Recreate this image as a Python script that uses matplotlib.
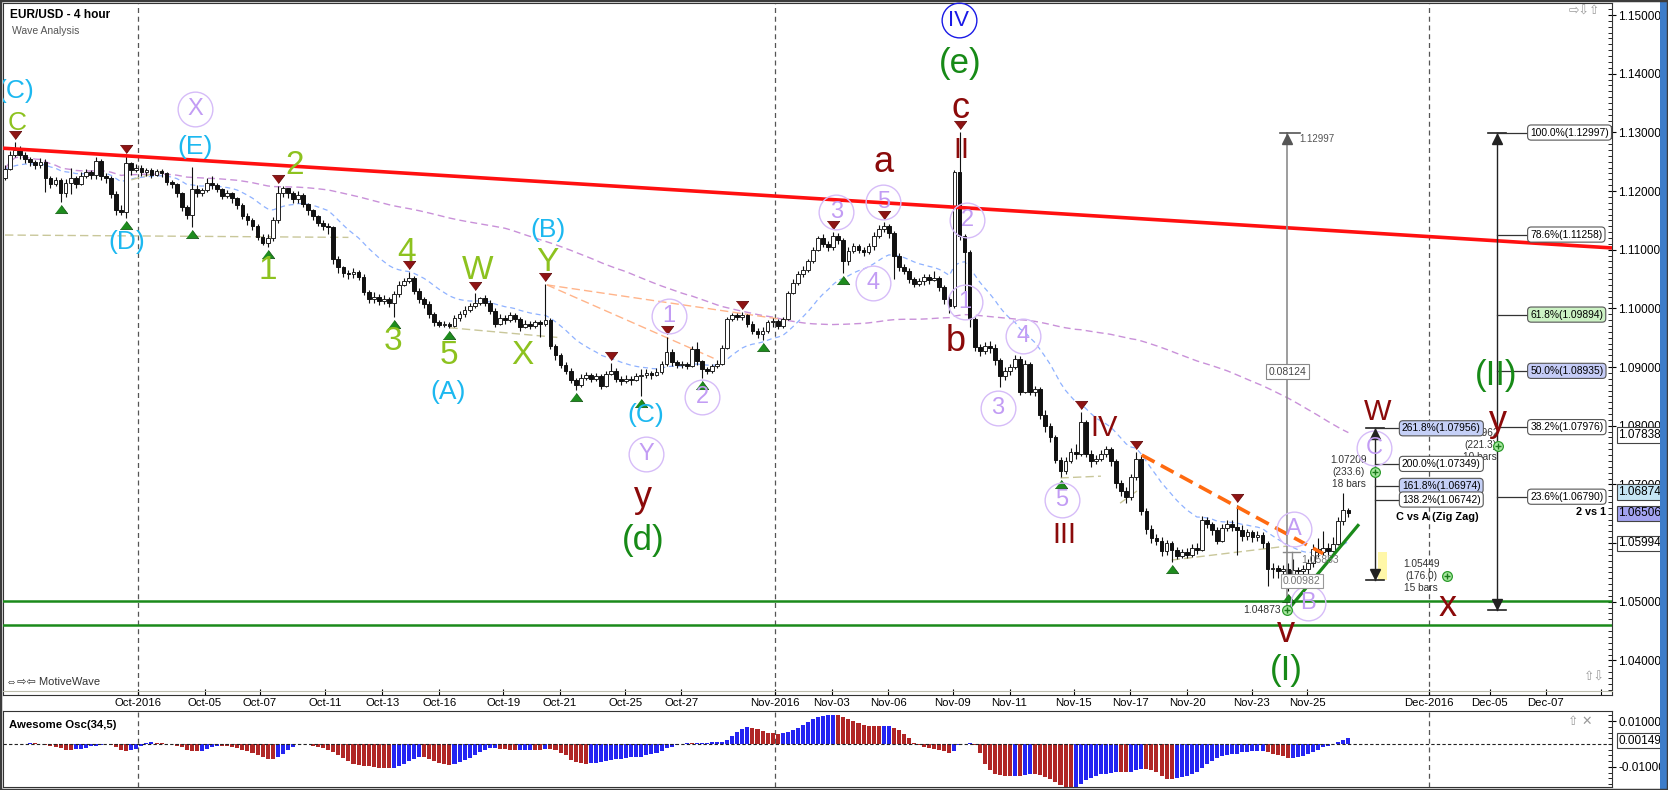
import matplotlib
matplotlib.use('Agg')
import matplotlib.pyplot as plt
import matplotlib.transforms as mtrans
from matplotlib.lines import Line2D
from matplotlib.patches import Rectangle
from matplotlib.ticker import MultipleLocator, FixedLocator
import numpy as np
import pandas as pd

plt.rcParams['font.family'] = ['Liberation Sans', 'DejaVu Sans']

# ---- EUR/USD 4h candles (open = previous close) ----
first_open = 1.1222
closes = [
    1.1238, 1.1262, 1.1270, 1.1262, 1.1255, 1.1250, 1.1244, 1.1250, 1.1222, 1.1212,
    1.1218, 1.1196, 1.1214, 1.1222, 1.1212, 1.1225, 1.1233, 1.1227, 1.1252, 1.1225,
    1.1222, 1.1195, 1.1168, 1.1165, 1.1248, 1.1236, 1.1240, 1.1232, 1.1236, 1.1228,
    1.1234, 1.1230, 1.1216, 1.1212, 1.1196, 1.1172, 1.1160, 1.1204, 1.1196, 1.1202,
    1.1214, 1.1210, 1.1204, 1.1192, 1.1196, 1.1188, 1.1176, 1.1158, 1.1150, 1.1140,
    1.1122, 1.1112, 1.1120, 1.1150, 1.1196, 1.1205, 1.1196, 1.1186, 1.1194, 1.1178,
    1.1168, 1.1158, 1.1146, 1.1140, 1.1138, 1.1085, 1.1070, 1.1060, 1.1058, 1.1062,
    1.1054, 1.1028, 1.1016, 1.1020, 1.1012, 1.1016, 1.1010, 1.1024, 1.1040, 1.1046,
    1.1052, 1.1030, 1.1016, 1.1008, 1.0990, 1.0976, 1.0972, 1.0974, 1.0970, 1.0984,
    1.0990, 1.0998, 1.1004, 1.1010, 1.1018, 1.1010, 1.0996, 1.0974, 1.0984, 1.0980,
    1.0988, 1.0982, 1.0968, 1.0974, 1.0970, 1.0976, 1.0974, 1.0980, 1.0936, 1.0920,
    1.0904, 1.0894, 1.0878, 1.0870, 1.0882, 1.0886, 1.0880, 1.0884, 1.0868, 1.0888,
    1.0894, 1.0880, 1.0876, 1.0880, 1.0878, 1.0884, 1.0886, 1.0890, 1.0886, 1.0892,
    1.0906, 1.0926, 1.0908, 1.0904, 1.0906, 1.0902, 1.0930, 1.0910, 1.0896, 1.0894,
    1.0902, 1.0906, 1.0932, 1.0982, 1.0988, 1.0986, 1.0988, 1.0974, 1.0962, 1.0956,
    1.0962, 1.0976, 1.0978, 1.0970, 1.0982, 1.1026, 1.1044, 1.1058, 1.1066, 1.1080,
    1.1100, 1.1120, 1.1110, 1.1104, 1.1124, 1.1116, 1.1080, 1.1098, 1.1106, 1.1100,
    1.1096, 1.1106, 1.1124, 1.1136, 1.1140, 1.1128, 1.1090, 1.1070, 1.1064, 1.1050,
    1.1042, 1.1046, 1.1054, 1.1048, 1.1052, 1.1036, 1.1016, 1.1004, 1.1232, 1.1124,
    1.1096, 1.0982, 1.0934, 1.0928, 1.0936, 1.0932, 1.0912, 1.0884, 1.0894, 1.0900,
    1.0914, 1.0858, 1.0905, 1.0858, 1.0862, 1.0818, 1.0800, 1.0780, 1.0742, 1.0722,
    1.0740, 1.0756, 1.0752, 1.0806, 1.0752, 1.0740, 1.0744, 1.0752, 1.0760, 1.0740,
    1.0702, 1.0688, 1.0678, 1.0712, 1.0744, 1.0654, 1.0624, 1.0608, 1.0604, 1.0586,
    1.0600, 1.0588, 1.0578, 1.0584, 1.0580, 1.0592, 1.0588, 1.0640, 1.0632, 1.0622,
    1.0604, 1.0626, 1.0632, 1.0628, 1.0622, 1.0612, 1.0618, 1.0610, 1.0614, 1.0600,
    1.0556, 1.0558, 1.0552, 1.0556, 1.0548, 1.0554, 1.0552, 1.0556, 1.0566, 1.0590,
    1.0584, 1.0592, 1.0586, 1.0598, 1.0638, 1.0656, 1.0651]
highs = [
    1.1245, 1.1268, 1.1283, 1.1276, 1.1266, 1.1258, 1.1253, 1.1256, 1.1254, 1.1226,
    1.1224, 1.1222, 1.1220, 1.1240, 1.1226, 1.1232, 1.1238, 1.1236, 1.1258, 1.1255,
    1.1230, 1.1226, 1.1200, 1.1176, 1.1259, 1.1250, 1.1246, 1.1244, 1.1240, 1.1240,
    1.1238, 1.1238, 1.1232, 1.1218, 1.1214, 1.1198, 1.1176, 1.1241, 1.1210, 1.1206,
    1.1222, 1.1226, 1.1214, 1.1206, 1.1202, 1.1198, 1.1190, 1.1180, 1.1162, 1.1154,
    1.1144, 1.1126, 1.1126, 1.1156, 1.1209, 1.1208, 1.1206, 1.1200, 1.1200, 1.1196,
    1.1180, 1.1170, 1.1160, 1.1150, 1.1146, 1.1140, 1.1090, 1.1072, 1.1066, 1.1068,
    1.1066, 1.1058, 1.1032, 1.1028, 1.1024, 1.1022, 1.1020, 1.1030, 1.1046, 1.1052,
    1.1062, 1.1056, 1.1034, 1.1020, 1.1012, 1.0994, 1.0980, 1.0978, 1.0976, 1.0988,
    1.0996, 1.1004, 1.1010, 1.1026, 1.1020, 1.1022, 1.1014, 1.1000, 1.0990, 1.0988,
    1.0994, 1.0992, 1.0986, 1.0980, 1.0978, 1.0980, 1.0980, 1.1042, 1.0984, 1.0940,
    1.0924, 1.0908, 1.0898, 1.0882, 1.0888, 1.0892, 1.0890, 1.0890, 1.0888, 1.0894,
    1.0907, 1.0898, 1.0884, 1.0886, 1.0884, 1.0890, 1.0896, 1.0896, 1.0894, 1.0898,
    1.0910, 1.0952, 1.0930, 1.0912, 1.0910, 1.0908, 1.0936, 1.0943, 1.0912, 1.0900,
    1.0906, 1.0912, 1.0938, 1.0986, 1.0992, 1.0992, 1.0994, 1.0990, 1.0978, 1.0966,
    1.0968, 1.0980, 1.0984, 1.0982, 1.0986, 1.1030, 1.1050, 1.1064, 1.1072, 1.1084,
    1.1104, 1.1124, 1.1126, 1.1114, 1.1131, 1.1128, 1.1120, 1.1104, 1.1112, 1.1110,
    1.1104, 1.1112, 1.1130, 1.1142, 1.1148, 1.1144, 1.1132, 1.1094, 1.1076, 1.1068,
    1.1054, 1.1052, 1.1058, 1.1058, 1.1064, 1.1056, 1.1040, 1.1022, 1.1236, 1.1300,
    1.1126, 1.1100, 1.0986, 1.0940, 1.0942, 1.0944, 1.0940, 1.0916, 1.0900, 1.0906,
    1.0920, 1.0918, 1.0912, 1.0908, 1.0868, 1.0866, 1.0826, 1.0804, 1.0784, 1.0746,
    1.0746, 1.0762, 1.0768, 1.0824, 1.0810, 1.0758, 1.0750, 1.0758, 1.0766, 1.0764,
    1.0744, 1.0708, 1.0696, 1.0718, 1.0755, 1.0750, 1.0660, 1.0630, 1.0616, 1.0610,
    1.0606, 1.0604, 1.0594, 1.0590, 1.0592, 1.0598, 1.0600, 1.0646, 1.0644, 1.0636,
    1.0628, 1.0632, 1.0640, 1.0640, 1.0665, 1.0630, 1.0624, 1.0622, 1.0620, 1.0618,
    1.0604, 1.0566, 1.0562, 1.0562, 1.0566, 1.0572, 1.0560, 1.0562, 1.0572, 1.0598,
    1.0608, 1.0620, 1.0600, 1.0610, 1.0644, 1.0685, 1.0660]
lows = [
    1.1218, 1.1236, 1.1258, 1.1255, 1.1248, 1.1243, 1.1238, 1.1240, 1.1198, 1.1205,
    1.1208, 1.1182, 1.1190, 1.1195, 1.1205, 1.1210, 1.1222, 1.1220, 1.1220, 1.1218,
    1.1214, 1.1188, 1.1160, 1.1160, 1.1154, 1.1228, 1.1232, 1.1226, 1.1225, 1.1222,
    1.1226, 1.1224, 1.1210, 1.1206, 1.1190, 1.1166, 1.1152, 1.1139, 1.1190, 1.1192,
    1.1198, 1.1204, 1.1198, 1.1186, 1.1188, 1.1180, 1.1170, 1.1152, 1.1142, 1.1134,
    1.1116, 1.1108, 1.1105, 1.1114, 1.1146, 1.1190, 1.1188, 1.1180, 1.1180, 1.1172,
    1.1160, 1.1150, 1.1140, 1.1134, 1.1126, 1.1076, 1.1060, 1.1054, 1.1050, 1.1052,
    1.1048, 1.1022, 1.1010, 1.1010, 1.1006, 1.1008, 1.1002, 1.0986, 1.1020, 1.1038,
    1.1044, 1.1024, 1.1010, 1.1000, 1.0984, 1.0970, 1.0968, 1.0968, 1.0966, 1.0968,
    1.0978, 1.0986, 1.0994, 1.1000, 1.1006, 1.1004, 1.0990, 1.0968, 1.0972, 1.0974,
    1.0976, 1.0976, 1.0962, 1.0966, 1.0964, 1.0966, 1.0952, 1.0970, 1.0930, 1.0912,
    1.0898, 1.0888, 1.0872, 1.0861, 1.0866, 1.0878, 1.0874, 1.0876, 1.0862, 1.0866,
    1.0886, 1.0874, 1.0870, 1.0872, 1.0870, 1.0876, 1.0850, 1.0882, 1.0880, 1.0884,
    1.0888, 1.0902, 1.0902, 1.0898, 1.0898, 1.0896, 1.0900, 1.0904, 1.0881, 1.0888,
    1.0890, 1.0898, 1.0904, 1.0930, 1.0978, 1.0980, 1.0980, 1.0968, 1.0956, 1.0950,
    1.0946, 1.0958, 1.0968, 1.0964, 1.0966, 1.0980, 1.1024, 1.1040, 1.1054, 1.1062,
    1.1078, 1.1098, 1.1104, 1.1098, 1.1100, 1.1110, 1.1060, 1.1074, 1.1094, 1.1094,
    1.1090, 1.1092, 1.1100, 1.1120, 1.1130, 1.1120, 1.1050, 1.1064, 1.1058, 1.1044,
    1.1036, 1.1038, 1.1040, 1.1042, 1.1046, 1.1030, 1.1008, 1.0992, 1.1000, 1.1116,
    1.1030, 1.0969, 1.0928, 1.0918, 1.0922, 1.0924, 1.0904, 1.0866, 1.0878, 1.0886,
    1.0896, 1.0852, 1.0856, 1.0852, 1.0850, 1.0812, 1.0790, 1.0772, 1.0736, 1.0713,
    1.0718, 1.0736, 1.0744, 1.0748, 1.0746, 1.0730, 1.0734, 1.0740, 1.0746, 1.0732,
    1.0694, 1.0680, 1.0668, 1.0674, 1.0708, 1.0648, 1.0616, 1.0600, 1.0596, 1.0578,
    1.0580, 1.0568, 1.0572, 1.0574, 1.0574, 1.0576, 1.0582, 1.0586, 1.0626, 1.0614,
    1.0598, 1.0602, 1.0620, 1.0620, 1.0580, 1.0604, 1.0606, 1.0602, 1.0604, 1.0592,
    1.0527, 1.0540, 1.0540, 1.0542, 1.0518, 1.0540, 1.0544, 1.0546, 1.0548, 1.0560,
    1.0576, 1.0580, 1.0578, 1.0584, 1.0596, 1.0630, 1.0645]

# pivots marked with triangles (bar indices)
high_marks = [2, 24, 54, 80, 93, 107, 120, 131, 146, 164, 174, 189, 213, 224, 244]
low_marks = [11, 24, 37, 52, 77, 88, 113, 126, 138, 150, 166, 209, 231, 254]

# time axis (bar index of each date tick)
date_ticks = [26.4, 39.5, 50.5, 63.4, 74.7, 86.0, 98.7, 109.8, 122.8, 133.9, 152.5,
              163.7, 174.9, 187.7, 198.9, 211.6, 222.8, 234.1, 246.9, 257.8, 282.0,
              294.0, 305.1, 316.0]
date_labels = ['Oct-2016', 'Oct-05', 'Oct-07', 'Oct-11', 'Oct-13', 'Oct-16', 'Oct-19',
               'Oct-21', 'Oct-25', 'Oct-27', 'Nov-2016', 'Nov-03', 'Nov-06', 'Nov-09',
               'Nov-11', 'Nov-15', 'Nov-17', 'Nov-20', 'Nov-23', 'Nov-25', 'Dec-2016',
               'Dec-05', 'Dec-07', '']
month_lines = [26.4, 152.5, 282.0]

# wave count labels
wave_text = ['(C)', 'C', 'X', '(E)', '(D)', '2', '1', '4', '3', 'W', '5', 'X', 'Y', '(B)',
             '(A)', '1', '(C)', 'Y', 'y', '(d)', '2', '3', '5', '4', 'a', 'c', 'II', '(e)',
             'IV', '2', '1', 'b', '3', '4', '5', 'IV', 'III', 'A', 'B', 'v', '(I)', 'W',
             'C', 'x', 'y', '(II)']
wave_bar = [2.2, 2.4, 37.6, 37.6, 24.2, 57.4, 52.1, 79.6, 76.8, 93.5, 87.9, 102.4, 107.3,
            107.5, 87.7, 131.5, 126.9, 126.9, 126.3, 126.3, 138.0, 164.6, 173.9, 171.9,
            173.9, 189.1, 189.3, 189.1, 188.8, 190.5, 190.1, 188.3, 196.6, 201.6, 209.3,
            217.6, 209.7, 255.2, 258.0, 253.7, 253.7, 271.7, 271.1, 285.7, 295.6, 295.2]
wave_price = [1.1370, 1.1316, 1.1340, 1.1275, 1.1113, 1.1244, 1.1065, 1.1096, 1.0943,
              1.1065, 1.0920, 1.0920, 1.1079, 1.1134, 1.0857, 1.0987, 1.0818, 1.0752,
              1.0677, 1.0605, 1.0849, 1.1164, 1.1181, 1.1043, 1.1248, 1.1341, 1.1270,
              1.1418, 1.1491, 1.1151, 1.1011, 1.0944, 1.0830, 1.0953, 1.0673, 1.0796,
              1.0614, 1.0624, 1.0498, 1.0447, 1.0382, 1.0823, 1.0762, 1.0491, 1.0808,
              1.0886]
wave_kind = ['cyan', 'green_s', 'circle', 'cyan', 'cyan', 'green', 'green', 'green', 'green',
             'green', 'green', 'green', 'green', 'cyan', 'cyan', 'circle', 'cyan', 'circle',
             'red_l', 'dgreen', 'circle', 'circle', 'circle', 'circle', 'red_l', 'red_l',
             'red_u', 'dgreen', 'blue_circle', 'circle', 'circle', 'red_l', 'circle',
             'circle', 'circle', 'red_u', 'red_u', 'circle', 'circle', 'red_l', 'dgreen',
             'red_u', 'circle', 'red_l', 'red_l', 'dgreen']

# trend lines (bar, price)
red_line = ([-0.4, 318.2], [1.1273, 1.1103])
support_levels = [1.0501, 1.0461]
orange_line = ([225.1, 261.0], [1.0750, 1.0582])
green_line = ([254.5, 267.9], [1.0491, 1.0630])
orange_thin = [([107.3, 154.8], [1.1040, 1.0980]), ([107.3, 140.3], [1.1040, 1.0915])]
khaki_lines = [([0, 68], [1.1125, 1.1121]), ([25, 32], [1.1219, 1.1236]),
               ([88, 110], [1.0967, 1.0950]), ([209, 217], [1.0711, 1.0714]),
               ([220.8, 225.3], [1.0668, 1.0696]), ([231, 254], [1.0571, 1.0595])]

# fibonacci tools
fib1_bar, fib1_top, fib1_bottom = 271.3, 1.07956, 1.0537
fib1_levels = [1.07956, 1.07349, 1.06974, 1.06742]
fib1_labels = ['261.8%(1.07956)', '200.0%(1.07349)', '161.8%(1.06974)', '138.2%(1.06742)']
fib1_fill = ['#c5d0f7', 'white', '#c5d0f7', 'white']
fib2_bar, fib2_top, fib2_bottom = 295.5, 1.12997, 1.0486
fib2_levels = [1.12997, 1.11258, 1.09894, 1.08935, 1.07976, 1.06790]
fib2_labels = ['100.0%(1.12997)', '78.6%(1.11258)', '61.8%(1.09894)', '50.0%(1.08935)',
               '38.2%(1.07976)', '23.6%(1.06790)']
fib2_fill = ['white', 'white', '#ccf2c4', '#c5ccf7', 'white', 'white']
measure_bar, measure_top, measure_bottom = 253.9, 1.12997, 1.0486

proj_text = ['1.07209\n(233.6)\n18 bars', '1.05449\n(176.0)\n15 bars', '1.07962\n(221.3)\n10 bars']
proj_text_pos = [(266.1, 1.0721), (280.4, 1.0544), (292.1, 1.0767)]
proj_marks = [(271.3, 1.0721), (285.5, 1.0543), (295.6, 1.0766), (253.9, 1.0486)]

axis_prices = [1.07838, 1.06874, 1.06506, 1.05994]
axis_fill = ['white', '#c6e6f5', '#a3a3f0', 'white']
ao_last = 0.00149

# ---- figure ----
W, H = 1668, 790
fig = plt.figure(figsize=(W / 100, H / 100), dpi=100)
ax = fig.add_axes([3 / W, 1 - 695 / H, 1609 / W, 692 / H])
ax2 = fig.add_axes([3 / W, 1 - 787 / H, 1609 / W, 76 / H])

c = np.array(closes)
h = np.array(highs)
l = np.array(lows)
o = np.r_[first_open, c[:-1]]
h = np.maximum(h, np.maximum(o, c))
l = np.minimum(l, np.minimum(o, c))
x = np.arange(len(c))
up = c >= o
body = np.maximum(np.abs(c - o), 0.00006)
bot = np.minimum(o, c)

ax.vlines(x, l, h, color='#111111', lw=0.8, zorder=3)
ax.bar(x[up], body[up], bottom=bot[up], width=0.74, color='white', edgecolor='#222222', lw=0.7, zorder=4)
ax.bar(x[~up], body[~up], bottom=bot[~up], width=0.74, color='#111111', edgecolor='#111111', lw=0.7, zorder=4)

s = pd.Series(c)
ema = s.ewm(span=20, adjust=False).mean()
sma = s.rolling(100, min_periods=1).mean()
ax.plot(x, ema, color='#8fb2ff', lw=0.9, ls=(0, (4, 3)), zorder=2)
ax.plot(x, sma, color='#c991d9', lw=1.0, ls=(0, (5, 3)), zorder=2)

# lines
ax.plot(*red_line, color='#ff1010', lw=2.6, zorder=5, solid_capstyle='butt')
for lev in support_levels:
    ax.axhline(lev, color='#1a8a1a', lw=1.8, zorder=5)
ax.plot(*orange_line, color='#ff6a10', lw=2.6, ls=(0, (4, 2)), zorder=5)
ax.plot(*green_line, color='#1a8a1a', lw=2.3, zorder=5)
for xs, ys in orange_thin:
    ax.plot(xs, ys, color='#ffb48a', lw=1.0, ls=(0, (6, 3)), zorder=2)
for xs, ys in khaki_lines:
    ax.plot(xs, ys, color='#c9c79a', lw=1.0, ls=(0, (6, 3)), zorder=2)
for m in month_lines:
    ax.axvline(m, color='#555555', lw=0.9, ls=(0, (4, 3)), zorder=1)
    ax2.axvline(m, color='#555555', lw=0.9, ls=(0, (4, 3)), zorder=1)

# pivot triangles
tri_down = [(-6, 4), (6, 4), (0, -4)]
tri_up = [(-6, -4), (6, -4), (0, 4)]
tr_hi = mtrans.offset_copy(ax.transData, fig=fig, y=7, units='dots')
tr_lo = mtrans.offset_copy(ax.transData, fig=fig, y=-7, units='dots')
ax.plot(high_marks, h[high_marks], ls='none', marker=tri_down, ms=9, color='#8e1414',
        mec='#5a0000', mew=0.5, transform=tr_hi, zorder=6)
ax.plot(low_marks, l[low_marks], ls='none', marker=tri_up, ms=9, color='#1e8c1e',
        mec='#0d4f0d', mew=0.5, transform=tr_lo, zorder=6)

# wave labels
styles = {
    'green': dict(color='#8dc21f', fontsize=24),
    'green_s': dict(color='#8dc21f', fontsize=19),
    'cyan': dict(color='#1cb8f0', fontsize=19),
    'circle': dict(color='#c29cf4', fontsize=17),
    'blue_circle': dict(color='#1a1ae6', fontsize=16),
    'red_l': dict(color='#8b0a0a', fontsize=26),
    'red_u': dict(color='#8b0a0a', fontsize=21),
    'dgreen': dict(color='#178a17', fontsize=25),
}
for t, b, p, k in zip(wave_text, wave_bar, wave_price, wave_kind):
    st = styles[k]
    if k == 'circle':
        ax.plot(b, p, 'o', ms=25, mfc='none', mec='#d6bcf8', mew=1.0, zorder=6)
    if k == 'blue_circle':
        ax.plot(b, p, 'o', ms=25, mfc='none', mec='#1a1ae6', mew=1.0, zorder=6, clip_on=False)
    ax.text(b, p, t, ha='center', va='center', zorder=7, clip_on=(b < 5), **st)

# gray measure tool
ax.plot([measure_bar, measure_bar], [measure_bottom, measure_top], color='#8c8c8c', lw=1.2, zorder=5)
ax.plot([measure_bar - 1.4, measure_bar + 2.5], [measure_top, measure_top], color='#555555', lw=1.2, zorder=5)
ax.plot(measure_bar, measure_top, marker='^', ms=7, color='#555555',
        transform=mtrans.offset_copy(ax.transData, fig=fig, y=-6, units='dots'), zorder=6)
ax.text(measure_bar + 2.4, 1.1289, '1.12997', fontsize=7, color='#555555', va='center', zorder=6)
ax.text(measure_bar, 1.0892, '0.08124', fontsize=7.5, color='#444444', ha='center', va='center', zorder=6,
        bbox=dict(boxstyle='square,pad=0.25', fc='white', ec='#888888', lw=0.8))
ax.plot([253.0, 256.4], [1.05853, 1.05853], color='#888888', lw=1.0, zorder=5)
ax.plot([254.8, 254.8], [1.05853, 1.0540], color='#888888', lw=1.0, zorder=5)
ax.text(256.6, 1.0571, '1.05853', fontsize=7.5, color='#777777', va='center', zorder=6)
ax.text(256.8, 1.0535, '0.00982', fontsize=7.5, color='#777777', ha='center', va='center', zorder=6,
        bbox=dict(boxstyle='square,pad=0.2', fc='white', ec='#999999', lw=0.8))
ax.text(252.6, 1.0486, '1.04873', fontsize=7.5, color='#333333', ha='right', va='center', zorder=6)

# fib tool 1 (C vs A)
ax.plot([fib1_bar, fib1_bar], [fib1_bottom, fib1_top], color='#222222', lw=1.0, zorder=5)
ax.add_patch(Rectangle((271.9, 1.0537), 1.8, 0.0047, fc='#fff7a8', ec='none', zorder=4))
for p in (fib1_top, fib1_bottom):
    ax.plot([fib1_bar - 1.8, fib1_bar + 1.8], [p, p], color='#222222', lw=1.2, zorder=5)
ax.plot(fib1_bar, fib1_top, marker='^', ms=7, color='#222222',
        transform=mtrans.offset_copy(ax.transData, fig=fig, y=-6, units='dots'), zorder=6)
ax.plot(fib1_bar, fib1_bottom, marker='v', ms=7, color='#222222',
        transform=mtrans.offset_copy(ax.transData, fig=fig, y=6, units='dots'), zorder=6)
for p, t, fc in zip(fib1_levels, fib1_labels, fib1_fill):
    ax.plot([fib1_bar, 276.2], [p, p], color='#333333', lw=0.9, zorder=5)
    ax.text(276.6, p, t, fontsize=7.4, ha='left', va='center', zorder=6,
            bbox=dict(boxstyle='round,pad=0.25,rounding_size=0.35', fc=fc, ec='#555555', lw=0.8))
ax.text(283.6, 1.0644, 'C vs A (Zig Zag)', fontsize=7.8, weight='bold', ha='center', va='center', zorder=6)

# fib tool 2 (2 vs 1)
ax.plot([fib2_bar, fib2_bar], [fib2_bottom, fib2_top], color='#222222', lw=1.0, zorder=5)
for p in (fib2_top, fib2_bottom):
    ax.plot([fib2_bar - 1.8, fib2_bar + 1.8], [p, p], color='#222222', lw=1.2, zorder=5)
ax.plot(fib2_bar, fib2_top, marker='^', ms=7, color='#222222',
        transform=mtrans.offset_copy(ax.transData, fig=fig, y=-6, units='dots'), zorder=6)
ax.plot(fib2_bar, fib2_bottom, marker='v', ms=7, color='#222222',
        transform=mtrans.offset_copy(ax.transData, fig=fig, y=6, units='dots'), zorder=6)
for p, t, fc in zip(fib2_levels, fib2_labels, fib2_fill):
    ax.plot([fib2_bar, 301.6], [p, p], color='#333333', lw=0.9, zorder=5)
    ax.text(302.0, p, t, fontsize=7.4, ha='left', va='center', zorder=6,
            bbox=dict(boxstyle='round,pad=0.25,rounding_size=0.35', fc=fc, ec='#555555', lw=0.8))
ax.text(314.1, 1.0653, '2 vs 1', fontsize=7.8, weight='bold', ha='center', va='center', zorder=6)

# projection notes
for t, (b, p) in zip(proj_text, proj_text_pos):
    ax.text(b, p, t, fontsize=7.3, color='#333333', ha='center', va='center', linespacing=1.25, zorder=5)
for b, p in proj_marks:
    ax.plot(b, p, 'o', ms=7, mfc='#a8e8a0', mec='#2a9a2a', mew=0.9, zorder=6)
    ax.plot(b, p, '+', ms=4.5, color='#1a7a1a', mew=1.0, zorder=7)

# price axis
ax.set_xlim(-0.4, 318.2)
ax.set_ylim(1.0341, 1.15205)
ax.yaxis.tick_right()
ax.yaxis.set_major_locator(FixedLocator(np.round(np.arange(1.04, 1.1501, 0.01), 2)))
ax.yaxis.set_minor_locator(MultipleLocator(0.001))
ax.yaxis.set_major_formatter(matplotlib.ticker.FormatStrFormatter('%.5f'))
ax.tick_params(axis='y', which='major', direction='inout', length=6, labelsize=8.5, pad=1.5)
ax.tick_params(axis='y', which='minor', direction='in', length=3)
ax.set_xticks(date_ticks)
ax.set_xticklabels(date_labels)
ax.tick_params(axis='x', direction='in', length=4, labelsize=8.2, pad=2.5)
for sp in ax.spines.values():
    sp.set_color('#333333')

ytr = mtrans.blended_transform_factory(ax.transAxes, ax.transData)
for p, fc in zip(axis_prices, axis_fill):
    ax.text(1.004, p, '%.5f' % p, transform=ytr, fontsize=8.5, ha='left', va='center', zorder=8,
            bbox=dict(boxstyle='square,pad=0.15', fc=fc, ec='#444444', lw=0.8), clip_on=False)

# awesome oscillator
med = (pd.Series(h) + pd.Series(l)) / 2
ao = (med.rolling(5, min_periods=1).mean() - med.rolling(34, min_periods=1).mean()).values
ao_up = np.r_[True, ao[1:] >= ao[:-1]]
ao_col = np.where(ao_up, '#2424f2', '#b02626')
ax2.bar(x, ao, width=0.8, color=ao_col, zorder=2)
ax2.axhline(0, color='#222222', lw=0.8, ls=(0, (3, 2)), zorder=3)
ax2.set_xlim(-0.4, 318.2)
ax2.set_ylim(-0.0187, 0.01435)
ax2.set_xticks([])
ax2.yaxis.tick_right()
ax2.set_yticks([0.01, -0.01])
ax2.set_yticklabels(['0.01000', '-0.01000'])
ax2.yaxis.set_minor_locator(MultipleLocator(0.0025))
ax2.tick_params(axis='y', which='major', direction='inout', length=6, labelsize=8.5, pad=1.5)
ax2.tick_params(axis='y', which='minor', direction='in', length=3)
for sp in ax2.spines.values():
    sp.set_color('#333333')
ytr2 = mtrans.blended_transform_factory(ax2.transAxes, ax2.transData)
ax2.text(1.004, ao_last, '%.5f' % ao_last, transform=ytr2, fontsize=8.5, ha='left', va='center',
         bbox=dict(boxstyle='square,pad=0.15', fc='white', ec='#444444', lw=0.8), clip_on=False)
ax2.text(0.004, 0.82, 'Awesome Osc(34,5)', transform=ax2.transAxes, fontsize=8.2, weight='bold', va='center')
ax2.text(0.988, 0.86, '⇧ ✕', transform=ax2.transAxes, fontsize=9, color='#999999', ha='right', va='center')

# chrome
fig.text(10 / W, 1 - 15 / H, 'EUR/USD - 4 hour', fontsize=8.6, weight='bold', va='center')
fig.text(12 / W, 1 - 31 / H, 'Wave Analysis', fontsize=7.5, color='#555555', va='center')
fig.text(6 / W, 1 - 682 / H, '⇔⇨⇦ MotiveWave', fontsize=8, color='#333333', va='center')
fig.text(1600 / W, 1 - 12 / H, '⇨⇩⇧', fontsize=9, color='#999999', ha='right', va='center')
fig.text(1605 / W, 1 - 678 / H, '⇧⇩', fontsize=9, color='#999999', ha='right', va='center')
fig.add_artist(Line2D([3 / W, 1612 / W], [1 - 691 / H, 1 - 691 / H], color='#bdbdad', lw=0.8))
fig.add_artist(Rectangle((1660 / W, 0), 8 / W, 1, transform=fig.transFigure, fc='#3d7dca', ec='none'))
fig.add_artist(Rectangle((0, 0), 1, 1, transform=fig.transFigure, fill=False, ec='#3c3c3c', lw=2.5))

fig.savefig('out.png', dpi=100)
